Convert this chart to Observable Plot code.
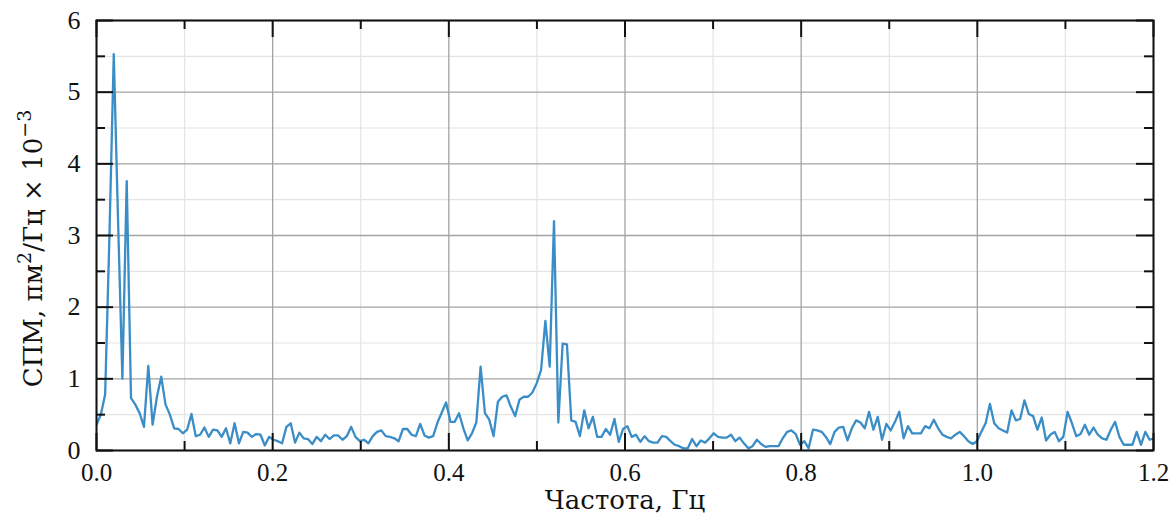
<!DOCTYPE html>
<html>
<head>
<meta charset="utf-8">
<script src="https://cdn.jsdelivr.net/npm/d3@7"></script>
<script src="https://cdn.jsdelivr.net/npm/@observablehq/plot@0.6"></script>
<style>
  html, body { margin: 0; padding: 0; background: #fff; }
</style>
</head>
<body>
<div id="chart"></div>
<script>
// Spectral density values (СПМ, пм²/Гц × 10⁻³), uniform frequency step
const freqStep = 0.0049; // Гц
const spm = [
  0.36, 0.50, 0.78, 3.00, 5.53, 3.20, 1.00, 3.76, 0.73, 0.64,
  0.52, 0.33, 1.18, 0.36, 0.75, 1.03, 0.64, 0.50, 0.31, 0.30,
  0.24, 0.29, 0.51, 0.20, 0.22, 0.32, 0.19, 0.29, 0.28, 0.19,
  0.31, 0.10, 0.38, 0.10, 0.26, 0.25, 0.19, 0.23, 0.22, 0.07,
  0.19, 0.15, 0.13, 0.10, 0.33, 0.38, 0.11, 0.25, 0.17, 0.16,
  0.09, 0.19, 0.13, 0.22, 0.16, 0.21, 0.21, 0.15, 0.20, 0.33,
  0.19, 0.13, 0.15, 0.10, 0.20, 0.26, 0.28, 0.20, 0.19, 0.17,
  0.13, 0.30, 0.30, 0.22, 0.20, 0.37, 0.21, 0.18, 0.20, 0.39,
  0.53, 0.67, 0.40, 0.40, 0.52, 0.31, 0.14, 0.24, 0.39, 1.17,
  0.52, 0.43, 0.20, 0.68, 0.75, 0.77, 0.61, 0.48, 0.71, 0.75,
  0.75, 0.81, 0.94, 1.12, 1.81, 1.17, 3.20, 0.39, 1.49, 1.48,
  0.42, 0.40, 0.20, 0.56, 0.31, 0.47, 0.19, 0.19, 0.30, 0.22,
  0.44, 0.12, 0.30, 0.34, 0.19, 0.22, 0.12, 0.20, 0.13, 0.11,
  0.11, 0.20, 0.19, 0.13, 0.08, 0.06, 0.03, 0.03, 0.16, 0.06,
  0.14, 0.11, 0.17, 0.24, 0.19, 0.18, 0.18, 0.22, 0.13, 0.18,
  0.10, 0.03, 0.06, 0.15, 0.09, 0.05, 0.06, 0.06, 0.06, 0.17,
  0.26, 0.28, 0.23, 0.08, 0.13, 0.03, 0.29, 0.28, 0.26, 0.19,
  0.09, 0.26, 0.32, 0.33, 0.14, 0.31, 0.42, 0.39, 0.31, 0.54,
  0.29, 0.47, 0.15, 0.37, 0.28, 0.40, 0.54, 0.17, 0.34, 0.24,
  0.24, 0.24, 0.34, 0.31, 0.43, 0.31, 0.22, 0.19, 0.17, 0.22,
  0.26, 0.20, 0.13, 0.09, 0.13, 0.26, 0.38, 0.65, 0.38, 0.31,
  0.28, 0.25, 0.56, 0.42, 0.44, 0.70, 0.51, 0.48, 0.29, 0.46,
  0.14, 0.22, 0.26, 0.13, 0.19, 0.54, 0.38, 0.20, 0.23, 0.36,
  0.22, 0.32, 0.22, 0.17, 0.15, 0.29, 0.40, 0.19, 0.08, 0.08,
  0.08, 0.26, 0.08, 0.26, 0.15, 0.17
];

// Tick values
const xMajor = [0, 0.2, 0.4, 0.6, 0.8, 1.0, 1.2];
const xMinor = [0.1, 0.3, 0.5, 0.7, 0.9, 1.1];
const yMajor = [0, 1, 2, 3, 4, 5, 6];
const yMinor = [0.5, 1.5, 2.5, 3.5, 4.5, 5.5];

const xTitle = "Частота, Гц";
const yTitle = "СПМ, пм2/Гц × 10-3";

const data = spm.map((v, i) => ({f: i * freqStep, p: v}));

const W = 1171, H = 515;
const mL = 96, mR = 18, mT = 20, mB = 65;
const plotW = W - mL - mR, plotH = H - mT - mB;
const majorLen = 17, minorLen = 9;

const tickFont = "'Liberation Serif', 'DejaVu Serif', serif";
const titleFont = "'DejaVu Serif', 'Liberation Serif', serif";

const chart = Plot.plot({
  width: W,
  height: H,
  marginLeft: mL,
  marginRight: mR,
  marginTop: mT,
  marginBottom: mB,
  style: {background: "#fff", fontFamily: tickFont, color: "#111"},
  x: {domain: [0, 1.2]},
  y: {domain: [0, 6]},
  marks: [
    Plot.ruleX(xMinor, {stroke: "#e4e4e4", strokeWidth: 1.2}),
    Plot.ruleY(yMinor, {stroke: "#e4e4e4", strokeWidth: 1.2}),
    Plot.ruleX(xMajor, {stroke: "#a3a3a3", strokeWidth: 1.3}),
    Plot.ruleY(yMajor, {stroke: "#a3a3a3", strokeWidth: 1.3}),
    Plot.line(data, {x: "f", y: "p", stroke: "#3a8dc6", strokeWidth: 2.3, clip: true}),
    // inward ticks, bottom & top
    Plot.tickX(xMajor, {x: d => d, insetTop: plotH - majorLen, stroke: "#111", strokeWidth: 2}),
    Plot.tickX(xMinor, {x: d => d, insetTop: plotH - minorLen, stroke: "#111", strokeWidth: 2}),
    Plot.tickX(xMajor, {x: d => d, insetBottom: plotH - majorLen, stroke: "#111", strokeWidth: 2}),
    Plot.tickX(xMinor, {x: d => d, insetBottom: plotH - minorLen, stroke: "#111", strokeWidth: 2}),
    // inward ticks, left & right
    Plot.tickY(yMajor, {y: d => d, insetRight: plotW - majorLen, stroke: "#111", strokeWidth: 2}),
    Plot.tickY(yMinor, {y: d => d, insetRight: plotW - minorLen, stroke: "#111", strokeWidth: 2}),
    Plot.tickY(yMajor, {y: d => d, insetLeft: plotW - majorLen, stroke: "#111", strokeWidth: 2}),
    Plot.tickY(yMinor, {y: d => d, insetLeft: plotW - minorLen, stroke: "#111", strokeWidth: 2}),
    Plot.frame({stroke: "#111", strokeWidth: 2}),
    Plot.axisX(xMajor, {tickSize: 0, tickPadding: 13, tickFormat: d3.format(".1f"), fontSize: 25, label: null, fill: "#111"}),
    Plot.axisY(yMajor, {tickSize: 0, tickPadding: 16, tickFormat: d3.format("d"), fontSize: 26, label: null, fill: "#111"}),
    Plot.text([xTitle], {text: d => d, frameAnchor: "bottom", textAnchor: "middle", dy: 58, fontSize: 26, fontFamily: titleFont, fill: "#111"}),
    Plot.text([yTitle], {text: d => d, frameAnchor: "left", textAnchor: "middle", rotate: -90, dx: -63, dy: 13, fontSize: 26, fontFamily: titleFont, fill: "#111"})
  ]
});

// superscripts in the y title
d3.select(chart).selectAll("text").filter(function() { return this.textContent === yTitle; }).each(function() {
  const t = d3.select(this);
  t.text(null);
  t.append("tspan").text("СПМ, пм");
  t.append("tspan").attr("dy", "-11").attr("font-size", "19").text("2");
  t.append("tspan").attr("dy", "11").text("/Гц × 10");
  t.append("tspan").attr("dy", "-11").attr("font-size", "19").text("−3");
});

document.getElementById("chart").appendChild(chart);
</script>
</body>
</html>
